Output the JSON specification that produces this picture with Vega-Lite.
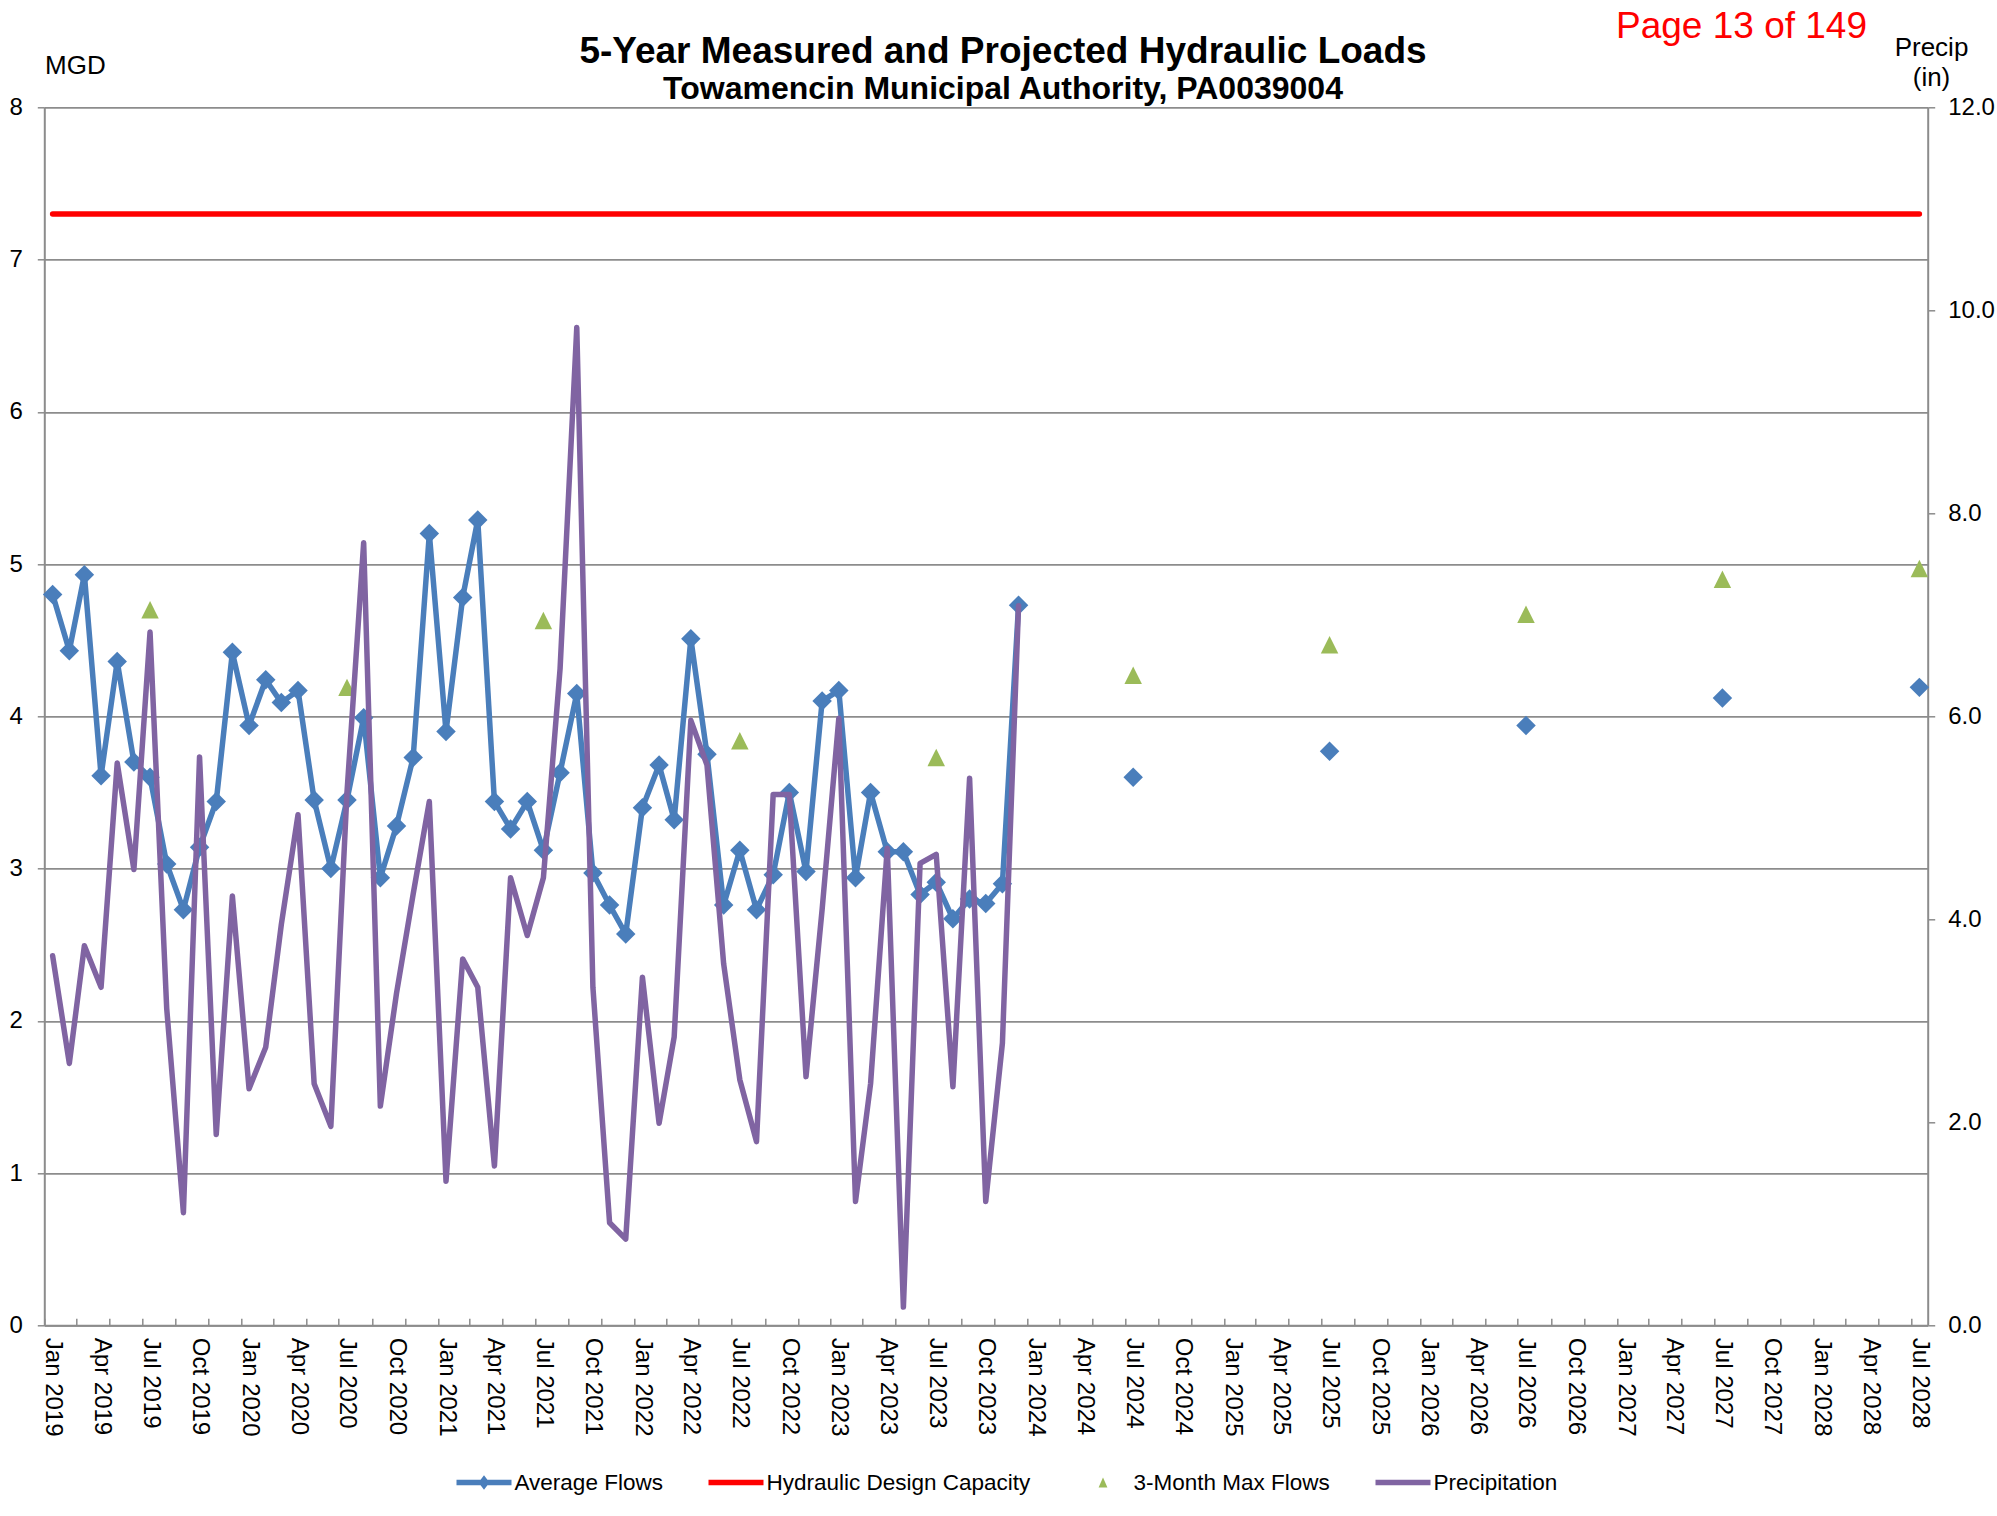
{
  "$schema": "https://vega.github.io/schema/vega-lite/v6.json",
  "width": 1883.4,
  "height": 1218,
  "autosize": {"type": "none"},
  "padding": {"left": 44.3, "top": 107.3, "right": 69.3, "bottom": 190.7},
  "background": "white",
  "config": {"font": "Liberation Sans", "view": {"stroke": null}},
  "title": {
    "text": "5-Year Measured and Projected Hydraulic Loads",
    "subtitle": "Towamencin Municipal Authority, PA0039004",
    "anchor": "middle",
    "frame": "group",
    "font": "Liberation Sans",
    "fontSize": 37,
    "fontWeight": "bold",
    "color": "#000000",
    "subtitleFont": "Liberation Sans",
    "subtitleFontSize": 32,
    "subtitleFontWeight": "bold",
    "subtitleColor": "#000000",
    "subtitlePadding": 2.5,
    "offset": 0,
    "dx": 17,
    "dy": 98.5
  },
  "datasets": {
    "capacity": [
      {"date": "2019-01-01T00:00:00", "capacity": 7.3},
      {"date": "2028-07-01T00:00:00", "capacity": 7.3}
    ],
    "flows": [
      {"date": "2019-01-01T00:00:00", "series": "Average Flows", "period": "measured", "value": 4.80},
      {"date": "2019-02-01T00:00:00", "series": "Average Flows", "period": "measured", "value": 4.43},
      {"date": "2019-03-01T00:00:00", "series": "Average Flows", "period": "measured", "value": 4.93},
      {"date": "2019-04-01T00:00:00", "series": "Average Flows", "period": "measured", "value": 3.61},
      {"date": "2019-05-01T00:00:00", "series": "Average Flows", "period": "measured", "value": 4.36},
      {"date": "2019-06-01T00:00:00", "series": "Average Flows", "period": "measured", "value": 3.70},
      {"date": "2019-07-01T00:00:00", "series": "Average Flows", "period": "measured", "value": 3.60},
      {"date": "2019-08-01T00:00:00", "series": "Average Flows", "period": "measured", "value": 3.03},
      {"date": "2019-09-01T00:00:00", "series": "Average Flows", "period": "measured", "value": 2.73},
      {"date": "2019-10-01T00:00:00", "series": "Average Flows", "period": "measured", "value": 3.14},
      {"date": "2019-11-01T00:00:00", "series": "Average Flows", "period": "measured", "value": 3.44},
      {"date": "2019-12-01T00:00:00", "series": "Average Flows", "period": "measured", "value": 4.42},
      {"date": "2020-01-01T00:00:00", "series": "Average Flows", "period": "measured", "value": 3.94},
      {"date": "2020-02-01T00:00:00", "series": "Average Flows", "period": "measured", "value": 4.24},
      {"date": "2020-03-01T00:00:00", "series": "Average Flows", "period": "measured", "value": 4.09},
      {"date": "2020-04-01T00:00:00", "series": "Average Flows", "period": "measured", "value": 4.17},
      {"date": "2020-05-01T00:00:00", "series": "Average Flows", "period": "measured", "value": 3.45},
      {"date": "2020-06-01T00:00:00", "series": "Average Flows", "period": "measured", "value": 3.00},
      {"date": "2020-07-01T00:00:00", "series": "Average Flows", "period": "measured", "value": 3.45},
      {"date": "2020-08-01T00:00:00", "series": "Average Flows", "period": "measured", "value": 3.99},
      {"date": "2020-09-01T00:00:00", "series": "Average Flows", "period": "measured", "value": 2.94},
      {"date": "2020-10-01T00:00:00", "series": "Average Flows", "period": "measured", "value": 3.28},
      {"date": "2020-11-01T00:00:00", "series": "Average Flows", "period": "measured", "value": 3.73},
      {"date": "2020-12-01T00:00:00", "series": "Average Flows", "period": "measured", "value": 5.20},
      {"date": "2021-01-01T00:00:00", "series": "Average Flows", "period": "measured", "value": 3.90},
      {"date": "2021-02-01T00:00:00", "series": "Average Flows", "period": "measured", "value": 4.78},
      {"date": "2021-03-01T00:00:00", "series": "Average Flows", "period": "measured", "value": 5.29},
      {"date": "2021-04-01T00:00:00", "series": "Average Flows", "period": "measured", "value": 3.44},
      {"date": "2021-05-01T00:00:00", "series": "Average Flows", "period": "measured", "value": 3.26},
      {"date": "2021-06-01T00:00:00", "series": "Average Flows", "period": "measured", "value": 3.44},
      {"date": "2021-07-01T00:00:00", "series": "Average Flows", "period": "measured", "value": 3.12},
      {"date": "2021-08-01T00:00:00", "series": "Average Flows", "period": "measured", "value": 3.63},
      {"date": "2021-09-01T00:00:00", "series": "Average Flows", "period": "measured", "value": 4.15},
      {"date": "2021-10-01T00:00:00", "series": "Average Flows", "period": "measured", "value": 2.97},
      {"date": "2021-11-01T00:00:00", "series": "Average Flows", "period": "measured", "value": 2.76},
      {"date": "2021-12-01T00:00:00", "series": "Average Flows", "period": "measured", "value": 2.57},
      {"date": "2022-01-01T00:00:00", "series": "Average Flows", "period": "measured", "value": 3.40},
      {"date": "2022-02-01T00:00:00", "series": "Average Flows", "period": "measured", "value": 3.68},
      {"date": "2022-03-01T00:00:00", "series": "Average Flows", "period": "measured", "value": 3.32},
      {"date": "2022-04-01T00:00:00", "series": "Average Flows", "period": "measured", "value": 4.51},
      {"date": "2022-05-01T00:00:00", "series": "Average Flows", "period": "measured", "value": 3.75},
      {"date": "2022-06-01T00:00:00", "series": "Average Flows", "period": "measured", "value": 2.76},
      {"date": "2022-07-01T00:00:00", "series": "Average Flows", "period": "measured", "value": 3.12},
      {"date": "2022-08-01T00:00:00", "series": "Average Flows", "period": "measured", "value": 2.73},
      {"date": "2022-09-01T00:00:00", "series": "Average Flows", "period": "measured", "value": 2.96},
      {"date": "2022-10-01T00:00:00", "series": "Average Flows", "period": "measured", "value": 3.50},
      {"date": "2022-11-01T00:00:00", "series": "Average Flows", "period": "measured", "value": 2.98},
      {"date": "2022-12-01T00:00:00", "series": "Average Flows", "period": "measured", "value": 4.10},
      {"date": "2023-01-01T00:00:00", "series": "Average Flows", "period": "measured", "value": 4.17},
      {"date": "2023-02-01T00:00:00", "series": "Average Flows", "period": "measured", "value": 2.94},
      {"date": "2023-03-01T00:00:00", "series": "Average Flows", "period": "measured", "value": 3.50},
      {"date": "2023-04-01T00:00:00", "series": "Average Flows", "period": "measured", "value": 3.11},
      {"date": "2023-05-01T00:00:00", "series": "Average Flows", "period": "measured", "value": 3.11},
      {"date": "2023-06-01T00:00:00", "series": "Average Flows", "period": "measured", "value": 2.83},
      {"date": "2023-07-01T00:00:00", "series": "Average Flows", "period": "measured", "value": 2.91},
      {"date": "2023-08-01T00:00:00", "series": "Average Flows", "period": "measured", "value": 2.67},
      {"date": "2023-09-01T00:00:00", "series": "Average Flows", "period": "measured", "value": 2.80},
      {"date": "2023-10-01T00:00:00", "series": "Average Flows", "period": "measured", "value": 2.77},
      {"date": "2023-11-01T00:00:00", "series": "Average Flows", "period": "measured", "value": 2.90},
      {"date": "2023-12-01T00:00:00", "series": "Average Flows", "period": "measured", "value": 4.73},
      {"date": "2024-07-01T00:00:00", "series": "Average Flows", "period": "projected", "value": 3.60},
      {"date": "2025-07-01T00:00:00", "series": "Average Flows", "period": "projected", "value": 3.77},
      {"date": "2026-07-01T00:00:00", "series": "Average Flows", "period": "projected", "value": 3.94},
      {"date": "2027-07-01T00:00:00", "series": "Average Flows", "period": "projected", "value": 4.12},
      {"date": "2028-07-01T00:00:00", "series": "Average Flows", "period": "projected", "value": 4.19},
      {"date": "2019-07-01T00:00:00", "series": "3-Month Max Flows", "period": "measured", "value": 4.70},
      {"date": "2020-07-01T00:00:00", "series": "3-Month Max Flows", "period": "measured", "value": 4.19},
      {"date": "2021-07-01T00:00:00", "series": "3-Month Max Flows", "period": "measured", "value": 4.63},
      {"date": "2022-07-01T00:00:00", "series": "3-Month Max Flows", "period": "measured", "value": 3.84},
      {"date": "2023-07-01T00:00:00", "series": "3-Month Max Flows", "period": "measured", "value": 3.73},
      {"date": "2024-07-01T00:00:00", "series": "3-Month Max Flows", "period": "projected", "value": 4.27},
      {"date": "2025-07-01T00:00:00", "series": "3-Month Max Flows", "period": "projected", "value": 4.47},
      {"date": "2026-07-01T00:00:00", "series": "3-Month Max Flows", "period": "projected", "value": 4.67},
      {"date": "2027-07-01T00:00:00", "series": "3-Month Max Flows", "period": "projected", "value": 4.90},
      {"date": "2028-07-01T00:00:00", "series": "3-Month Max Flows", "period": "projected", "value": 4.97}
    ],
    "precip": [
      {"date": "2019-01-01T00:00:00", "precip": 3.64},
      {"date": "2019-02-01T00:00:00", "precip": 2.58},
      {"date": "2019-03-01T00:00:00", "precip": 3.74},
      {"date": "2019-04-01T00:00:00", "precip": 3.33},
      {"date": "2019-05-01T00:00:00", "precip": 5.54},
      {"date": "2019-06-01T00:00:00", "precip": 4.49},
      {"date": "2019-07-01T00:00:00", "precip": 6.83},
      {"date": "2019-08-01T00:00:00", "precip": 3.12},
      {"date": "2019-09-01T00:00:00", "precip": 1.11},
      {"date": "2019-10-01T00:00:00", "precip": 5.60},
      {"date": "2019-11-01T00:00:00", "precip": 1.88},
      {"date": "2019-12-01T00:00:00", "precip": 4.23},
      {"date": "2020-01-01T00:00:00", "precip": 2.33},
      {"date": "2020-02-01T00:00:00", "precip": 2.74},
      {"date": "2020-03-01T00:00:00", "precip": 3.95},
      {"date": "2020-04-01T00:00:00", "precip": 5.03},
      {"date": "2020-05-01T00:00:00", "precip": 2.38},
      {"date": "2020-06-01T00:00:00", "precip": 1.96},
      {"date": "2020-07-01T00:00:00", "precip": 5.25},
      {"date": "2020-08-01T00:00:00", "precip": 7.71},
      {"date": "2020-09-01T00:00:00", "precip": 2.16},
      {"date": "2020-10-01T00:00:00", "precip": 3.27},
      {"date": "2020-11-01T00:00:00", "precip": 4.25},
      {"date": "2020-12-01T00:00:00", "precip": 5.16},
      {"date": "2021-01-01T00:00:00", "precip": 1.42},
      {"date": "2021-02-01T00:00:00", "precip": 3.61},
      {"date": "2021-03-01T00:00:00", "precip": 3.33},
      {"date": "2021-04-01T00:00:00", "precip": 1.57},
      {"date": "2021-05-01T00:00:00", "precip": 4.41},
      {"date": "2021-06-01T00:00:00", "precip": 3.84},
      {"date": "2021-07-01T00:00:00", "precip": 4.41},
      {"date": "2021-08-01T00:00:00", "precip": 6.47},
      {"date": "2021-09-01T00:00:00", "precip": 9.83},
      {"date": "2021-10-01T00:00:00", "precip": 3.33},
      {"date": "2021-11-01T00:00:00", "precip": 1.01},
      {"date": "2021-12-01T00:00:00", "precip": 0.85},
      {"date": "2022-01-01T00:00:00", "precip": 3.43},
      {"date": "2022-02-01T00:00:00", "precip": 1.99},
      {"date": "2022-03-01T00:00:00", "precip": 2.84},
      {"date": "2022-04-01T00:00:00", "precip": 5.96},
      {"date": "2022-05-01T00:00:00", "precip": 5.52},
      {"date": "2022-06-01T00:00:00", "precip": 3.56},
      {"date": "2022-07-01T00:00:00", "precip": 2.42},
      {"date": "2022-08-01T00:00:00", "precip": 1.81},
      {"date": "2022-09-01T00:00:00", "precip": 5.23},
      {"date": "2022-10-01T00:00:00", "precip": 5.23},
      {"date": "2022-11-01T00:00:00", "precip": 2.45},
      {"date": "2022-12-01T00:00:00", "precip": 4.10},
      {"date": "2023-01-01T00:00:00", "precip": 5.98},
      {"date": "2023-02-01T00:00:00", "precip": 1.22},
      {"date": "2023-03-01T00:00:00", "precip": 2.38},
      {"date": "2023-04-01T00:00:00", "precip": 4.70},
      {"date": "2023-05-01T00:00:00", "precip": 0.18},
      {"date": "2023-06-01T00:00:00", "precip": 4.55},
      {"date": "2023-07-01T00:00:00", "precip": 4.64},
      {"date": "2023-08-01T00:00:00", "precip": 2.35},
      {"date": "2023-09-01T00:00:00", "precip": 5.39},
      {"date": "2023-10-01T00:00:00", "precip": 1.22},
      {"date": "2023-11-01T00:00:00", "precip": 2.78},
      {"date": "2023-12-01T00:00:00", "precip": 7.09}
    ]
  },
  "layer": [
    {
      "layer": [
        {
          "data": {"name": "capacity"},
          "mark": {"type": "line", "color": "#FF0000", "strokeWidth": 5.5, "strokeCap": "round"},
          "encoding": {
            "x": {
              "field": "date",
              "type": "temporal",
              "scale": {
                "domain": [
                  {"year": 2018, "month": 12, "date": 16, "hours": 12},
                  {"year": 2028, "month": 7, "date": 16, "hours": 12}
                ],
                "nice": false
              },
              "axis": {
                "tickCount": {"interval": "month", "step": 1},
                "labelExpr": "month(datum.value) % 3 == 0 ? timeFormat(datum.value, '%b %Y') : ''",
                "labelAngle": 90,
                "labelOverlap": false,
                "labelFlush": false,
                "labelBound": false,
                "labelFont": "Liberation Sans",
                "labelFontSize": 24,
                "labelColor": "#000000",
                "labelPadding": 19,
                "labelOffset": 8.2,
                "tickOffset": -8.2,
                "tickSize": -7,
                "tickColor": "#8c8c8c",
                "tickWidth": 1.5,
                "tickOpacity": {"condition": {"test": "month(datum.value) % 2 == 0", "value": 1}, "value": 0},
                "domainColor": "#8c8c8c",
                "domainWidth": 2,
                "grid": false,
                "title": "Page 13 of 149",
                "titleFont": "Liberation Sans",
                "titleFontSize": 37,
                "titleFontWeight": "normal",
                "titleColor": "#FF0000",
                "titleAngle": 0,
                "titleAlign": "center",
                "titleBaseline": "alphabetic",
                "titleX": 1696.7,
                "titleY": -1288.3
              }
            },
            "y": {
              "field": "capacity",
              "type": "quantitative",
              "scale": {"domain": [0, 8], "nice": false},
              "axis": {
                "title": "MGD",
                "values": [0, 1, 2, 3, 4, 5, 6, 7, 8],
                "format": "d",
                "grid": true,
                "gridColor": "#8c8c8c",
                "gridWidth": 1.75,
                "domainColor": "#8c8c8c",
                "domainWidth": 2,
                "tickColor": "#8c8c8c",
                "tickSize": 7,
                "tickWidth": 1.5,
                "labelFont": "Liberation Sans",
                "labelFontSize": 24,
                "labelColor": "#000000",
                "labelPadding": 15,
                "titleFont": "Liberation Sans",
                "titleFontSize": 26,
                "titleFontWeight": "normal",
                "titleColor": "#000000",
                "titleAngle": 0,
                "titleAlign": "left",
                "titleBaseline": "alphabetic",
                "titleX": 0.3,
                "titleY": -34.3
              }
            }
          }
        },
        {
          "data": {"name": "flows"},
          "transform": [{"filter": "datum.series == 'Average Flows' && datum.period == 'measured'"}],
          "mark": {"type": "line", "color": "#4A7EBB", "strokeWidth": 5.5, "strokeJoin": "round"},
          "encoding": {
            "x": {"field": "date", "type": "temporal"},
            "y": {"field": "value", "type": "quantitative"}
          }
        },
        {
          "data": {"name": "flows"},
          "transform": [{"filter": "false"}],
          "mark": {"type": "point", "filled": true, "size": 3025, "opacity": 1, "strokeWidth": 0},
          "encoding": {
            "x": {"field": "date", "type": "temporal"},
            "y": {"field": "value", "type": "quantitative"},
            "color": {
              "field": "series",
              "type": "nominal",
              "scale": {
                "domain": ["Average Flows", "Hydraulic Design Capacity", "3-Month Max Flows", "Precipitation"],
                "range": ["#4A7EBB", "#FF0000", "#9BBB59", "#8064A2"]
              },
              "legend": {
                "orient": "none",
                "legendX": 412.2,
                "legendY": 1347.7,
                "direction": "horizontal",
                "columns": 4,
                "title": null,
                "padding": 0,
                "labelFont": "Liberation Sans",
                "labelFontSize": 22.5,
                "labelColor": "#000000",
                "labelLimit": 500,
                "labelOffset": 3,
                "columnPadding": 45,
                "symbolSize": 3025,
                "symbolStrokeWidth": 0,
                "symbolOpacity": 1
              }
            },
            "shape": {
              "field": "series",
              "type": "nominal",
              "scale": {
                "domain": ["Average Flows", "Hydraulic Design Capacity", "3-Month Max Flows", "Precipitation"],
                "range": [
                  "M-1,-0.1H1V0.1H-1ZM0,-0.26L0.2,0L0,0.26L-0.2,0Z",
                  "M-1,-0.1H1V0.1H-1Z",
                  "M0,-0.18L0.16,0.18L-0.16,0.18Z",
                  "M-1,-0.1H1V0.1H-1Z"
                ]
              },
              "legend": {
                "orient": "none",
                "legendX": 412.2,
                "legendY": 1347.7,
                "direction": "horizontal",
                "columns": 4,
                "title": null,
                "padding": 0,
                "labelFont": "Liberation Sans",
                "labelFontSize": 22.5,
                "labelColor": "#000000",
                "labelLimit": 500,
                "labelOffset": 3,
                "columnPadding": 45,
                "symbolSize": 3025,
                "symbolStrokeWidth": 0,
                "symbolOpacity": 1
              }
            }
          }
        },
        {
          "data": {"name": "flows"},
          "transform": [{"filter": "datum.series == 'Average Flows'"}],
          "mark": {"type": "point", "shape": "diamond", "filled": true, "size": 380, "opacity": 1, "strokeWidth": 0},
          "encoding": {
            "x": {"field": "date", "type": "temporal"},
            "y": {"field": "value", "type": "quantitative"},
            "color": {
              "field": "series",
              "type": "nominal",
              "scale": {
                "domain": ["Average Flows", "Hydraulic Design Capacity", "3-Month Max Flows", "Precipitation"],
                "range": ["#4A7EBB", "#FF0000", "#9BBB59", "#8064A2"]
              }
            }
          }
        },
        {
          "data": {"name": "flows"},
          "transform": [{"filter": "datum.series == '3-Month Max Flows'"}],
          "mark": {"type": "point", "shape": "M0,-1L1,1L-1,1Z", "filled": true, "size": 306, "opacity": 1, "strokeWidth": 0},
          "encoding": {
            "x": {"field": "date", "type": "temporal"},
            "y": {"field": "value", "type": "quantitative"},
            "color": {
              "field": "series",
              "type": "nominal",
              "scale": {
                "domain": ["Average Flows", "Hydraulic Design Capacity", "3-Month Max Flows", "Precipitation"],
                "range": ["#4A7EBB", "#FF0000", "#9BBB59", "#8064A2"]
              }
            }
          }
        }
      ]
    },
    {
      "data": {"name": "precip"},
      "mark": {"type": "line", "color": "#8064A2", "strokeWidth": 5.5, "strokeJoin": "round", "strokeCap": "round"},
      "encoding": {
        "x": {"field": "date", "type": "temporal"},
        "y": {
          "field": "precip",
          "type": "quantitative",
          "scale": {"domain": [0, 12], "nice": false},
          "axis": {
            "orient": "right",
            "title": ["Precip", "(in)"],
            "values": [0, 2, 4, 6, 8, 10, 12],
            "format": ".1f",
            "grid": false,
            "domainColor": "#8c8c8c",
            "domainWidth": 2,
            "tickColor": "#8c8c8c",
            "tickSize": 7,
            "tickWidth": 1.5,
            "labelFont": "Liberation Sans",
            "labelFontSize": 24,
            "labelColor": "#000000",
            "labelPadding": 13,
            "titleFont": "Liberation Sans",
            "titleFontSize": 26,
            "titleFontWeight": "normal",
            "titleColor": "#000000",
            "titleAngle": 0,
            "titleAlign": "center",
            "titleBaseline": "alphabetic",
            "titleLineHeight": 30,
            "titleX": 3.3,
            "titleY": -52.3
          }
        }
      }
    }
  ],
  "resolve": {"scale": {"y": "independent"}}
}
